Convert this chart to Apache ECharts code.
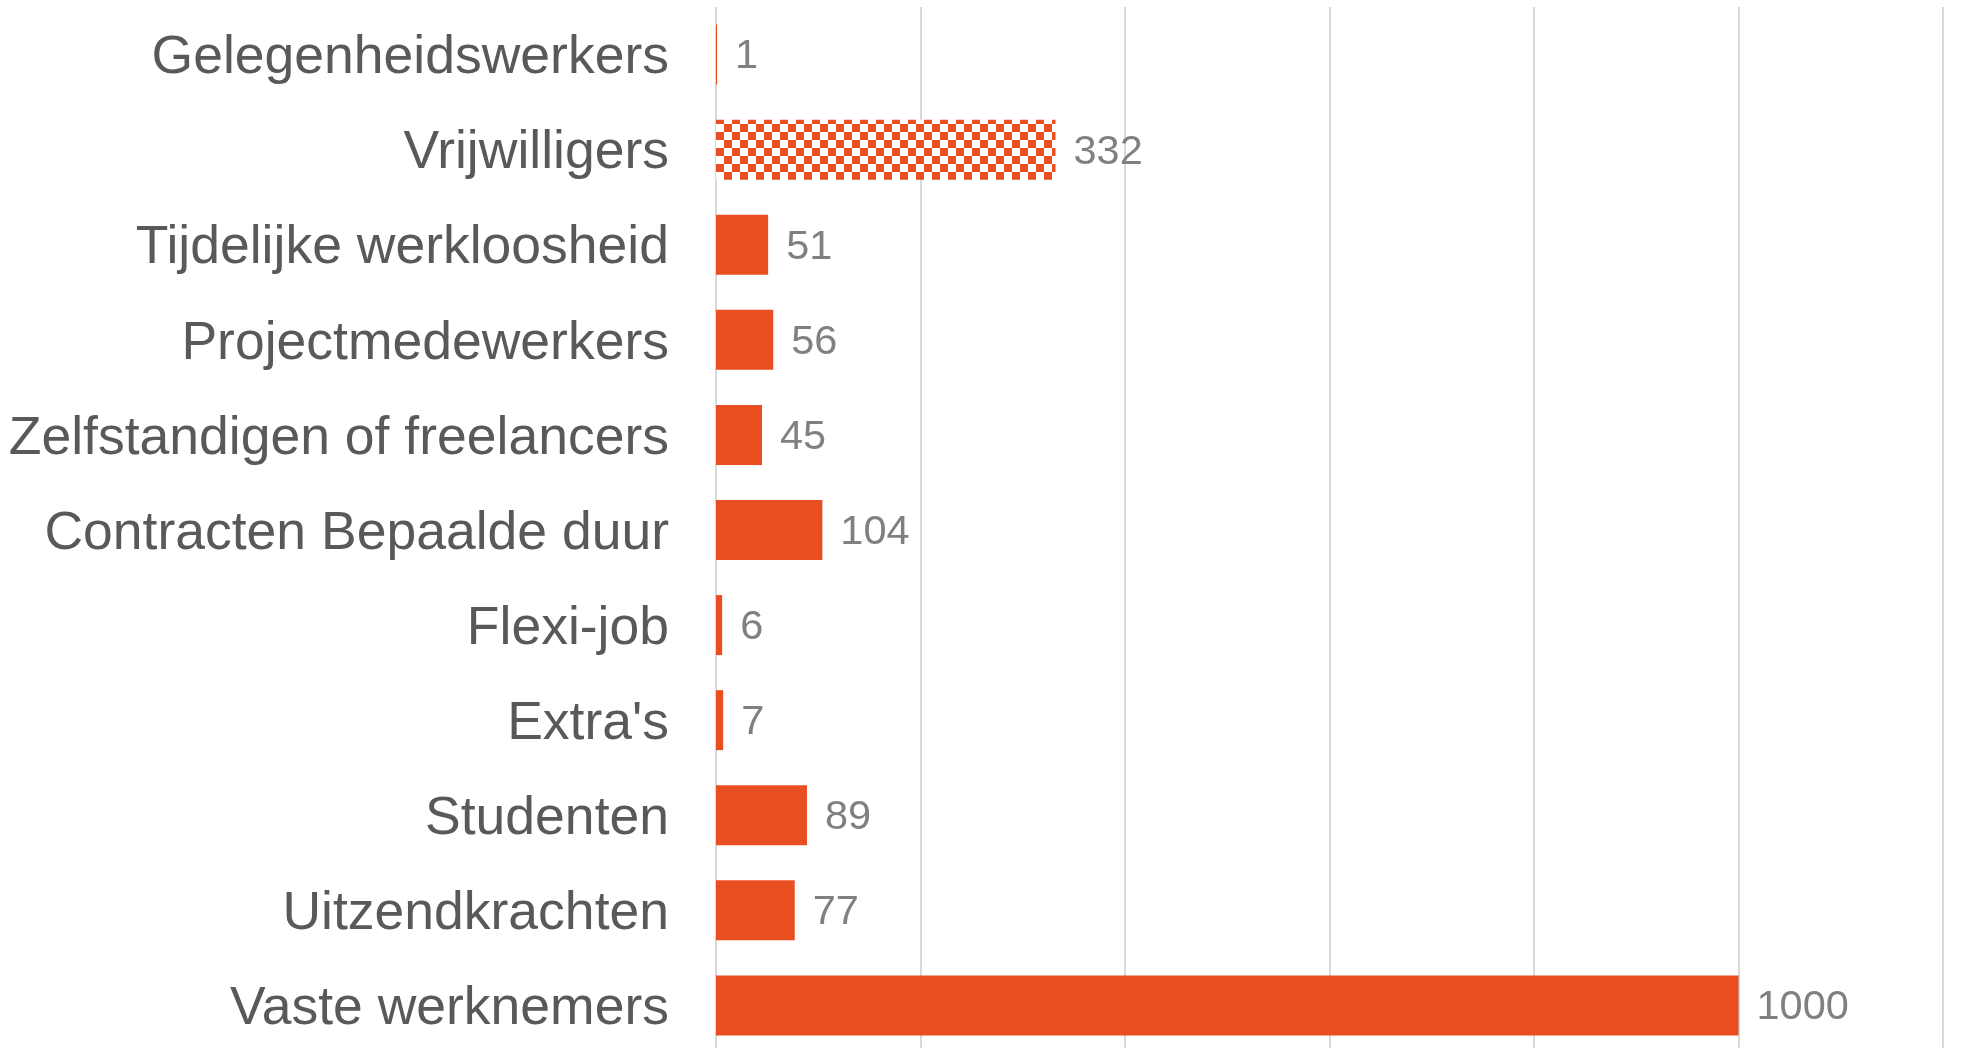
<!DOCTYPE html>
<html>
<head>
<meta charset="utf-8">
<script src="https://cdn.jsdelivr.net/npm/echarts@6/dist/echarts.min.js"></script>
<style>
  html, body { margin: 0; padding: 0; background: #fff; overflow: hidden; }
  #chart { width: 1962px; height: 1056px; }
</style>
</head>
<body>
<div id="chart"></div>
<script>
// top to bottom
const categories = [
  "Gelegenheidswerkers",
  "Vrijwilligers",
  "Tijdelijke werkloosheid",
  "Projectmedewerkers",
  "Zelfstandigen of freelancers",
  "Contracten Bepaalde duur",
  "Flexi-job",
  "Extra's",
  "Studenten",
  "Uitzendkrachten",
  "Vaste werknemers"
];
const values = [1, 332, 51, 56, 45, 104, 6, 7, 89, 77, 1000];
const patterned = ["Vrijwilligers"];

const orange = "#E84E1F";

// checkerboard fill for the patterned bar
const makeChecker = () => {
  let c = document.createElement("canvas");
  c.width = 16;
  c.height = 16;
  let ctx = c.getContext("2d");
  ctx.fillStyle = "#ffffff";
  ctx.fillRect(0, 0, 16, 16);
  ctx.fillStyle = orange;
  for (let y = 0; y < 16; y++) {
    for (let x = 0; x < 16; x++) {
      if ((Math.floor((x + 12) / 8) + Math.floor((y + 12) / 8)) % 2 === 1) {
        ctx.fillRect(x, y, 1, 1);
      }
    }
  }
  return c;
};
const checker = makeChecker();

const barData = values.map((v, i) => {
  if (patterned.includes(categories[i])) {
    return { value: v, itemStyle: { color: { image: checker, repeat: "repeat" } } };
  }
  return v;
});

const chart = echarts.init(document.getElementById("chart"), null, { renderer: "canvas" });
const option = {
  animation: false,
  grid: { left: 716, right: 19, top: 7, height: 1046, containLabel: false },
  xAxis: {
    type: "value",
    min: 0,
    max: 1200,
    interval: 200,
    axisLine: { show: false },
    axisTick: { show: false },
    axisLabel: { show: false },
    splitLine: { show: true, lineStyle: { color: "#D9D9D9", width: 2 } }
  },
  yAxis: {
    type: "category",
    data: categories,
    inverse: true,
    axisLine: { show: false },
    axisTick: { show: false },
    axisLabel: {
      margin: 47,
      fontSize: 53.5,
      color: "#595959",
      // nudge the text a few pixels below the band centre
      verticalAlign: "top",
      lineHeight: 8,
      fontFamily: "Liberation Sans, Arial, sans-serif"
    }
  },
  series: [
    {
      type: "bar",
      data: barData,
      barWidth: 60,
      itemStyle: { color: orange },
      label: {
        show: true,
        position: "right",
        distance: 18,
        fontSize: 41.5,
        color: "#808080",
        verticalAlign: "top",
        lineHeight: 5,
        fontFamily: "Liberation Sans, Arial, sans-serif"
      }
    }
  ]
};
chart.setOption(option);
</script>
</body>
</html>
